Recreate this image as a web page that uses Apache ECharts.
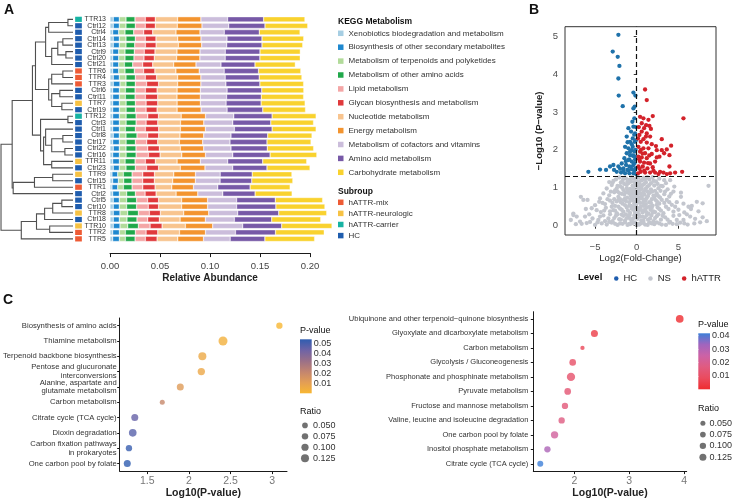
<!DOCTYPE html>
<html>
<head>
<meta charset="utf-8">
<script src="https://cdn.jsdelivr.net/npm/echarts@6/dist/echarts.min.js"></script>
<style>html,body{margin:0;padding:0;background:#fff}#main{width:735px;height:500px}</style>
</head>
<body>
<div id="main"></div>
<script>
'use strict';

// ---------- Panel A : samples, top to bottom ----------
var samples = ['TTR13','Ctrl12','Ctrl4','Ctrl14','Ctrl13','Ctrl9','Ctrl20','Ctrl21','TTR6','TTR4','TTR3','Ctrl6','Ctrl11','TTR7','Ctrl19','TTR12','Ctrl3','Ctrl1','Ctrl8','Ctrl17','Ctrl22','Ctrl16','TTR11','Ctrl23','TTR9','Ctrl15','TTR1','Ctrl2','Ctrl5','Ctrl10','TTR8','Ctrl18','TTR10','TTR2','TTR5'];
var subgroupOf = ['hATTR-carrier','HC','HC','HC','HC','HC','HC','HC','hATTR-mix','hATTR-mix','hATTR-mix','HC','HC','hATTR-neurologic','HC','hATTR-carrier','HC','HC','HC','HC','HC','HC','hATTR-neurologic','HC','hATTR-neurologic','HC','hATTR-mix','HC','HC','HC','hATTR-neurologic','HC','hATTR-neurologic','hATTR-mix','hATTR-mix'];
var subgroups = ['hATTR-mix', 'hATTR-neurologic', 'hATTR-carrier', 'HC'];
var subgroupColors = ['#EE5B35', '#F7C244', '#17B3A3', '#1F5DAE'];

// relative abundance, x 1e-3
var xenobiotics = [3.3,3.3,2.7,3.3,3.3,2.7,2.7,2.7,2.7,3.3,3.3,2.7,2.7,2.7,2.7,2.7,2.7,2.7,3.3,2.7,3.3,2.7,2.7,3.3,2.0,2.7,2.0,2.7,3.3,3.3,3.3,3.3,3.3,2.7,2.7];
var secondary = [6.0,6.0,6.0,6.0,6.0,6.0,6.0,6.0,6.0,6.0,6.7,6.7,6.7,6.7,6.7,6.7,6.7,6.7,6.0,6.7,6.0,6.7,6.7,6.0,5.7,5.7,5.7,6.7,6.0,6.0,6.7,6.0,6.7,6.7,6.7];
var terpenoids = [6.7,6.7,6.3,6.7,6.7,6.3,6.3,5.7,6.3,6.7,6.0,6.0,6.0,6.7,6.7,6.7,6.7,6.0,6.7,6.7,6.7,6.7,5.7,6.7,5.7,5.3,5.7,7.3,7.3,7.3,7.7,7.7,7.7,6.0,6.0];
var otherAmino = [9.0,9.3,8.7,9.3,8.7,9.3,9.0,8.3,9.3,9.3,9.3,9.7,9.7,9.3,9.3,10.0,10.0,10.0,11.0,9.3,10.0,10.0,10.0,9.3,8.7,8.3,8.7,8.7,10.0,10.0,10.7,10.0,10.7,10.0,9.7];
var lipid = [10.3,10.0,10.0,10.0,10.7,10.0,10.0,10.0,9.3,10.0,11.3,10.3,10.3,10.7,10.7,11.7,10.0,10.0,10.7,11.3,11.7,12.3,10.3,11.3,10.7,10.7,10.7,9.7,11.0,11.7,11.0,10.7,11.7,10.7,10.3];
var glycan = [10.0,10.0,9.0,10.7,10.7,10.7,10.3,10.0,11.3,11.3,12.0,11.7,12.3,11.7,11.0,10.7,11.7,13.3,11.0,11.0,11.7,11.7,10.0,12.0,11.7,11.7,12.3,11.0,11.0,10.3,11.0,11.7,12.0,11.7,11.7];
var nucleotide = [22.3,22.0,23.3,21.7,22.3,22.0,22.3,21.0,21.0,21.0,19.0,20.0,19.3,19.3,20.0,22.7,22.7,21.7,21.3,21.7,21.0,21.7,21.7,21.7,19.3,18.3,16.7,20.0,23.0,23.0,23.3,20.7,23.3,21.7,20.7];
var energy = [23.3,24.7,24.0,23.3,23.3,23.0,23.3,22.3,23.3,23.3,23.3,23.3,23.3,23.3,24.0,24.3,23.3,25.0,23.7,23.3,23.3,23.7,23.3,24.7,21.7,22.7,21.7,21.7,26.0,26.0,25.0,25.3,27.3,26.0,25.7];
var cofactors = [26.7,26.7,24.3,26.0,25.0,25.3,25.3,25.0,25.0,24.3,25.0,26.7,26.3,25.7,26.0,28.3,29.0,29.0,27.3,27.3,27.3,27.3,27.3,27.7,24.7,24.7,24.3,25.0,29.0,29.0,29.0,29.0,30.0,30.0,26.7];
var aminoAcid = [36.0,36.3,35.0,35.0,35.3,34.7,34.7,34.0,34.3,34.0,34.0,34.7,34.7,35.0,35.7,38.3,38.0,37.7,36.7,37.0,36.3,37.3,35.0,34.3,32.0,31.7,32.3,32.3,38.7,39.3,41.0,37.3,39.0,40.0,34.7];
var carbohydrate = [41.3,42.7,40.7,41.7,40.7,40.3,40.3,40.3,42.3,42.7,43.7,42.0,42.3,44.0,42.7,44.0,42.7,44.0,44.3,44.0,46.3,46.7,44.0,43.0,39.7,41.0,40.0,37.0,47.3,49.0,48.0,49.0,50.3,48.7,49.7];

var keggNames = ['Xenobiotics biodegradation and metabolism','Biosynthesis of other secondary metabolites','Metabolism of terpenoids and polyketides','Metabolism of other amino acids','Lipid metabolism','Glycan biosynthesis and metabolism','Nucleotide metabolism','Energy metabolism','Metabolism of cofactors and vitamins','Amino acid metabolism','Carbohydrate metabolism'];
var keggValues = [xenobiotics, secondary, terpenoids, otherAmino, lipid, glycan, nucleotide, energy, cofactors, aminoAcid, carbohydrate];
var keggColors = ['#A6CEE3','#1E88CF','#B2DB9A','#20A84A','#F4A6A6','#E0393C','#F8C48E','#F3942F','#CBBDDB','#7759A7','#F9D22E'];

// clustering, hclust style: negative = leaf (1-based), positive = earlier merge
var mergeLeft = [-1,1,-4,-6,3,5,2,-9,8,-12,-14,10,9,7,-16,-19,-21,16,-18,-23,19,15,14,-25,24,25,23,-29,28,29,-33,30,32,27];
var mergeRight = [-2,-3,-5,-7,4,-8,6,-10,-11,-13,-15,11,12,13,-17,-20,-22,17,18,-24,20,21,22,-26,-27,-28,26,-30,-31,-32,-34,31,-35,33];
var mergeHeight = [5,24,10,7,15,21,27,10,21,13,11,21,24,37,5,10,8,21,27,21,29,32,40,20,38,59,60,11,20,28,23,36,51,71];

// ---------- Panel B : volcano ----------
var pThreshold = 0.05;
var hcPoints = [[-2.2,5.03],[-2.88,4.59],[-2.28,4.45],[-2.08,4.21],[-2.2,3.88],[-0.4,3.51],[-2.16,3.43],[-0.16,3.43],[-1.68,3.15],[-0.24,3.14],[-0.4,3.09],[-0.28,2.83],[-0.52,2.74],[-0.4,2.61],[-1.0,2.57],[-0.68,2.48],[-0.2,2.43],[-1.2,2.35],[-0.48,2.30],[-0.8,2.21],[-0.24,2.21],[-1.4,2.08],[-1.0,2.04],[-0.6,1.99],[-0.28,1.95],[-1.2,1.91],[-0.8,1.86],[-0.4,1.84],[-1.48,1.78],[-1.0,1.73],[-0.6,1.69],[-0.2,1.75],[-1.8,1.64],[-1.28,1.60],[-0.88,1.56],[-0.4,1.60],[-2.2,1.56],[-1.6,1.51],[-1.12,1.47],[-0.6,1.49],[-0.16,1.51],[-2.8,1.60],[-3.2,1.56],[-3.68,1.47],[-4.4,1.48],[-5.8,1.42],[-2.4,1.42],[-1.88,1.40],[-1.4,1.38],[-0.88,1.38],[-0.4,1.38],[-0.08,1.36],[-0.8,1.95],[-0.48,2.08],[-0.12,1.82],[-2.72,1.47],
[-0.1,2.6],[-0.3,2.4],[-0.1,2.25],[-0.6,2.15],[-0.15,2.0],[-0.5,1.85],[-0.25,1.65],[-0.7,1.55],[-1.0,1.45],[-0.3,1.45],[-1.6,1.45],[-2.0,1.5],[-1.3,1.7],[-0.9,1.75],[-1.1,2.2]];
var hattrPoints = [[1.0,3.59],[1.2,3.31],[5.6,2.83],[0.4,2.87],[0.8,2.83],[1.92,2.89],[1.4,2.79],[1.12,2.65],[1.52,2.63],[0.88,2.57],[0.6,2.48],[1.2,2.43],[0.32,2.39],[1.6,2.35],[3.0,2.28],[0.8,2.28],[0.48,2.21],[1.2,2.19],[1.8,2.15],[4.12,2.11],[0.2,2.08],[0.8,2.04],[1.4,2.04],[2.4,1.99],[3.0,1.99],[3.6,2.01],[0.4,1.95],[1.0,1.91],[1.8,1.89],[3.28,1.91],[3.92,1.86],[0.2,1.82],[0.6,1.80],[1.2,1.78],[2.4,1.80],[2.72,1.82],[0.4,1.69],[0.88,1.66],[1.6,1.64],[2.2,1.69],[0.2,1.56],[0.72,1.56],[1.28,1.51],[1.92,1.54],[3.92,1.56],[0.48,1.42],[1.0,1.40],[1.6,1.40],[2.2,1.40],[2.8,1.42],[3.2,1.40],[4.0,1.38],[4.6,1.40],[5.44,1.42],[0.16,1.38],[3.6,1.36],[2.6,1.36],
[0.25,2.6],[0.15,2.3],[0.5,2.0],[0.3,1.75],[0.7,1.9],[1.5,1.85],[0.9,1.45],[0.35,1.5],[1.35,1.65],[2.0,1.45],[1.1,2.35],[0.6,2.7],[2.3,2.1],[1.7,2.55]];
var nsPoints = [[-2.5,1.22],[-2.1,1.27],[-1.7,1.18],[-1.3,1.25],[-0.9,1.21],[-0.6,1.28],[-0.3,1.15],[-0.1,1.24],[0.2,1.27],[0.5,1.19],[0.8,1.26],[1.1,1.14],[1.5,1.22],[1.9,1.28],[2.3,1.17],[2.7,1.24],[-1.5,1.1],[0.9,1.1],[-2.9,1.13],[3.3,1.2],[4.0,1.2],
[-3.0,1.07],[-2.4,0.98],[-2.0,1.04],[-1.6,0.94],[-1.2,1.08],[-0.8,0.97],[-0.5,1.05],[-0.2,0.92],[0.1,1.02],[0.4,0.95],[0.7,1.07],[1.0,0.93],[1.3,1.03],[1.7,0.96],[2.1,1.06],[2.6,0.99],[3.1,1.04],[3.7,0.96],[4.5,1.03],[8.6,1.05],[-3.6,0.98],
[-4.0,0.85],[-3.3,0.8],[-2.7,0.88],[-2.2,0.76],[-1.8,0.84],[-1.4,0.72],[-1.0,0.87],[-0.7,0.78],[-0.3,0.83],[0.0,0.71],[0.3,0.86],[0.6,0.77],[0.9,0.82],[1.2,0.73],[1.6,0.88],[2.0,0.79],[2.4,0.85],[2.8,0.74],[3.3,0.83],[3.9,0.77],[5.3,0.87],[5.3,0.76],[-4.4,0.72],[-6.7,0.76],[4.4,0.9],
[-6.4,0.68],[-5.9,0.68],[-5.0,0.54],[-4.5,0.63],[-3.8,0.57],[-3.2,0.66],[-2.6,0.52],[-2.2,0.68],[-1.7,0.58],[-1.3,0.65],[-0.9,0.53],[-0.5,0.67],[-0.2,0.56],[0.2,0.64],[0.5,0.51],[0.8,0.69],[1.1,0.57],[1.5,0.62],[1.9,0.53],[2.3,0.67],[2.7,0.58],[3.0,0.68],[3.6,0.68],[4.2,0.55],[4.8,0.62],[5.6,0.58],[6.2,0.5],[6.6,0.52],[7.2,0.63],[7.9,0.59],
[-7.6,0.32],[-6.1,0.44],[-5.4,0.46],[-4.8,0.41],[-4.3,0.36],[-3.7,0.47],[-3.2,0.38],[-2.8,0.41],[-2.4,0.33],[-2.0,0.45],[-1.6,0.37],[-1.2,0.48],[-0.8,0.34],[-0.4,0.42],[0.0,0.31],[0.3,0.46],[0.7,0.35],[1.0,0.43],[1.4,0.32],[1.8,0.47],[2.2,0.36],[2.5,0.48],[2.9,0.4],[3.2,0.33],[3.8,0.44],[4.4,0.37],[5.0,0.42],[5.7,0.35],[6.5,0.44],[7.4,0.38],
[-7.9,0.15],[-7.6,0.28],[-7.2,0.24],[-6.8,0.11],[-6.2,0.24],[-5.3,0.19],[-4.6,0.15],[-4.0,0.27],[-3.4,0.19],[-2.9,0.12],[-2.5,0.26],[-2.1,0.17],[-1.8,0.29],[-1.4,0.14],[-1.0,0.23],[-0.6,0.11],[-0.3,0.27],[0.1,0.18],[0.4,0.24],[0.8,0.13],[1.2,0.28],[1.6,0.19],[2.0,0.12],[2.4,0.25],[2.9,0.16],[3.4,0.22],[4.0,0.1],[4.8,0.15],[5.6,0.15],[6.4,0.24],[7.0,0.18],[8.4,0.12],
[-7.3,0.04],[-6.0,0.07],[-5.0,0.02],[-4.2,0.06],[-3.6,0.03],[-3.0,0.08],[-2.3,0.02],[-1.7,0.05],[-1.1,0.02],[-0.5,0.07],[0.0,0.01],[0.5,0.06],[1.0,0.03],[1.5,0.08],[2.1,0.04],[2.7,0.06],[3.5,0.02],[4.3,0.05],[5.2,0.08],[6.1,0.03],[6.9,0.06],
[-1.1,1.17],[-0.4,1.02],[0.3,1.12],[0.6,0.98],[1.3,0.9],[-0.9,0.62],[-0.1,0.75],[0.4,0.6],[1.2,0.48],[-0.6,0.45],[-1.9,0.62],[0.9,0.4],[-0.2,0.34],[0.2,0.05],[-0.8,0.18],[1.8,0.7],[-1.5,0.82],[0.1,0.88],[-0.6,0.93],[1.5,1.07],[-2.3,0.9],[2.2,0.92],[-0.3,0.58],[0.7,0.24],[-1.3,0.3],[1.9,0.34],[-2.7,0.7],[2.6,0.78],[0.0,0.47],[-0.9,0.05],
[-2.8,1.18],[-2.3,1.05],[-1.9,1.14],[-1.6,1.24],[-1.2,0.99],[-1.0,1.12],[-0.7,1.16],[-0.45,1.24],[-0.15,1.08],[0.05,1.16],[0.35,1.04],[0.65,1.2],[1.0,1.22],[1.25,1.28],[1.7,1.12],[2.0,1.18],[2.5,1.1],[2.9,1.05],[3.5,1.12],[-3.3,1.15],
[-2.6,0.93],[-2.1,0.86],[-1.75,1.0],[-1.35,0.88],[-1.1,0.92],[-0.85,0.84],[-0.55,0.86],[-0.35,0.96],[-0.05,0.82],[0.25,0.94],[0.5,0.85],[0.85,0.9],[1.1,0.98],[1.45,0.85],[1.85,0.9],[2.3,0.8],[2.85,0.92],[3.4,0.9],[-3.1,0.9],[4.1,0.84],
[-2.4,0.64],[-2.0,0.7],[-1.55,0.68],[-1.15,0.74],[-0.75,0.7],[-0.45,0.74],[-0.1,0.65],[0.15,0.77],[0.45,0.72],[0.75,0.6],[1.05,0.66],[1.35,0.78],[1.7,0.6],[2.1,0.72],[2.5,0.62],[3.3,0.6],[-3.5,0.7],[-2.9,0.6],[3.9,0.62],[-4.1,0.6],
[-2.6,0.4],[-2.2,0.5],[-1.8,0.42],[-1.4,0.54],[-1.05,0.4],[-0.7,0.52],[-0.35,0.5],[-0.05,0.55],[0.15,0.38],[0.5,0.42],[0.85,0.52],[1.15,0.36],[1.5,0.5],[1.65,0.42],[2.0,0.38],[2.4,0.55],[2.7,0.44],[3.5,0.5],[-3.0,0.5],[-3.9,0.4],[4.6,0.5],
[-2.7,0.2],[-2.3,0.3],[-1.9,0.16],[-1.6,0.26],[-1.2,0.2],[-0.85,0.28],[-0.45,0.18],[-0.15,0.22],[0.25,0.3],[0.55,0.14],[0.95,0.22],[1.35,0.16],[1.75,0.27],[2.2,0.2],[2.6,0.3],[3.1,0.26],[3.7,0.16],[-3.2,0.3],[-3.8,0.12],[4.4,0.26],[5.1,0.28],[-4.4,0.24],[-5.7,0.3],[6.0,0.3],
[-2.0,0.06],[-1.4,0.09],[-0.8,0.04],[-0.2,0.09],[0.3,0.03],[0.8,0.08],[1.3,0.02],[1.8,0.06],[2.4,0.09],[3.0,0.03],[-2.6,0.05],[-3.3,0.1],[3.9,0.08],[-4.7,0.09],[4.8,0.04],[5.7,0.06],[-5.6,0.1],[7.6,0.09],[-6.6,0.05],[7.9,0.22]];

// ---------- Panel C : enrichment ----------
var pathwaysL = ['Biosynthesis of amino acids','Thiamine metabolism','Terpenoid backbone biosynthesis','Pentose and glucuronate\ninterconversions','Alanine, aspartate and\nglutamate metabolism','Carbon metabolism','Citrate cycle (TCA cycle)','Dioxin degradation','Carbon fixation pathways\nin prokaryotes','One carbon pool by folate'];
var pValueL = [0.00082, 0.0039, 0.0069, 0.0071, 0.0127, 0.0209, 0.0447, 0.0473, 0.0525, 0.0550];
var ratioL = [0.071, 0.157, 0.125, 0.104, 0.093, 0.029, 0.093, 0.114, 0.071, 0.093];

var pathwaysR = ['Ubiquinone and other terpenoid\u2212quinone biosynthesis','Glyoxylate and dicarboxylate metabolism','Carbon metabolism','Glycolysis / Gluconeogenesis','Phosphonate and phosphinate metabolism','Pyruvate metabolism','Fructose and mannose metabolism','Valine, leucine and isoleucine degradation','One carbon pool by folate','Inositol phosphate metabolism','Citrate cycle (TCA cycle)'];
var pValueR = [0.00012, 0.0043, 0.0071, 0.0107, 0.0115, 0.0132, 0.0148, 0.0170, 0.0229, 0.0309, 0.0417];
var ratioR = [0.150, 0.125, 0.025, 0.1125, 0.175, 0.1125, 0.100, 0.100, 0.1375, 0.100, 0.0875];

var ratioBreaks = [0.050, 0.075, 0.100, 0.125];
var pBreaksL = [0.01, 0.02, 0.03, 0.04, 0.05];
var pBreaksR = [0.01, 0.02, 0.03, 0.04];
var colorsL = ['#F8B732', '#E39E55', '#C3856F', '#9A7088', '#6E63A6', '#2F5DB0'];
var colorsR = ['#EF2C2F', '#EA4B5E', '#E05B80', '#CC62A6', '#A065BE', '#3D7FD8'];

// ------------------------------------------------
var FONT = '"Liberation Sans", Arial, Helvetica, sans-serif';
var chartDom = document.getElementById('main');
var myChart = echarts.init(chartDom, null, {renderer: 'canvas'});

function nlog(p) { return -Math.log10(p); }
function sizeL(r) { return 5.67 + 31.1 * (r - 0.05); }
function sizeR(r) { return 5.0 + 26.7 * (r - 0.05); }
function expand(arr) {
  var lo = Math.min.apply(null, arr), hi = Math.max.apply(null, arr), pad = (hi - lo) * 0.05;
  return [lo - pad, hi + pad];
}
function gradient(colors) {
  var stops = colors.slice().reverse().map(function (c, i) {
    return {offset: i / (colors.length - 1), color: c};
  });
  return {type: 'linear', x: 0, y: 0, x2: 0, y2: 1, colorStops: stops};
}

// dendrogram node positions
var nodeY = [];
var dendroData = mergeHeight.map(function (h, i) {
  function pos(ref) { return ref < 0 ? [-ref - 1, 0] : [nodeY[ref - 1], mergeHeight[ref - 1]]; }
  var a = pos(mergeLeft[i]), b = pos(mergeRight[i]);
  nodeY[i] = (a[0] + b[0]) / 2;
  return [h, a[0], b[0], a[1], b[1]];
});

var xL = pValueL.map(nlog), xR = pValueR.map(nlog);
var rangeL = expand(xL), rangeR = expand(xR);

var rowTop = 16.1, rowH = 226;
var axisCol = '#1a1a1a';

var grids = [
  {left: 110, top: rowTop, width: 200, height: rowH},             // 0 bars
  {left: 0, top: rowTop, width: 73, height: rowH},                // 1 dendrogram
  {left: 75, top: rowTop, width: 7, height: rowH},                // 2 subgroup
  {left: 565, top: 26.7, width: 151, height: 208.3, show: true, borderColor: '#333', borderWidth: 1, backgroundColor: 'transparent'}, // 3 volcano
  {left: 116, top: 318, width: 171, height: 154.7},               // 4 enrichment left
  {left: 533.3, top: 311.7, width: 153.4, height: 161},           // 5 enrichment right
  {left: 300, top: 339.3, width: 11.7, height: 54, show: true, borderWidth: 0, backgroundColor: gradient(colorsL)},   // 6 colorbar L
  {left: 698.3, top: 333.3, width: 11.7, height: 56, show: true, borderWidth: 0, backgroundColor: gradient(colorsR)}, // 7 colorbar R
  {left: 300, top: 420, width: 10, height: 43.6},                 // 8 ratio L
  {left: 699.3, top: 417.6, width: 10, height: 45.2}              // 9 ratio R
];

var enrichX = function (gi, range, ticks) {
  return {
    gridIndex: gi, type: 'value', min: range[0], max: range[1],
    axisLine: {show: true, lineStyle: {color: axisCol, width: 1}},
    axisTick: {show: true, length: 3, customValues: ticks, lineStyle: {color: axisCol}},
    axisLabel: {customValues: ticks, fontSize: 10.5, color: '#777', margin: 5},
    splitLine: {show: false},
    name: 'Log10(P-value)', nameLocation: 'middle', nameGap: 14,
    nameTextStyle: {fontSize: 10.5, fontWeight: 'bold', color: '#222'}
  };
};
var enrichY = function (gi, cats, fs, margin) {
  return {
    gridIndex: gi, type: 'category', data: cats, inverse: true,
    axisLine: {show: true, lineStyle: {color: axisCol, width: 1}},
    axisTick: {show: true, length: 2.5, alignWithLabel: true, lineStyle: {color: axisCol}},
    axisLabel: {interval: 0, fontSize: fs, color: '#333', margin: margin, lineHeight: 8.5}
  };
};
var colorbarY = function (gi, vmin, vmax, breaks) {
  return {
    gridIndex: gi, type: 'value', position: 'right', min: vmin, max: vmax,
    axisLine: {show: false}, splitLine: {show: false},
    axisTick: {show: true, inside: true, length: 2.5, customValues: breaks, lineStyle: {color: '#fff'}},
    axisLabel: {customValues: breaks, fontSize: 9, color: '#333', margin: 2, formatter: function (v) { return v.toFixed(2); }}
  };
};
var ratioY = function (gi) {
  return {
    gridIndex: gi, type: 'category', position: 'right', inverse: true,
    data: ratioBreaks.map(function (r) { return r.toFixed(3); }),
    axisLine: {show: false}, axisTick: {show: false},
    axisLabel: {interval: 0, fontSize: 9, color: '#333', margin: 3}
  };
};
var hidX = function (gi) { return {gridIndex: gi, type: 'value', min: 0, max: 1, show: false}; };

var xAxes = [
  {gridIndex: 0, type: 'value', min: 0, max: 0.2, interval: 0.05, offset: 11,
    axisLine: {show: true, lineStyle: {color: axisCol, width: 1}},
    axisTick: {show: true, length: 4, lineStyle: {color: axisCol}},
    axisLabel: {fontSize: 9.5, color: '#444', margin: 8, formatter: function (v) { return v.toFixed(2); }},
    splitLine: {show: false},
    name: 'Relative Abundance', nameLocation: 'middle', nameGap: 20,
    nameTextStyle: {fontSize: 10, fontWeight: 'bold', color: '#222'}},
  {gridIndex: 1, type: 'value', min: 0, max: 72, inverse: true, show: false},
  hidX(2),
  {gridIndex: 3, type: 'value', min: -8.6, max: 9.5,
    axisLine: {show: false}, splitLine: {show: false},
    axisTick: {show: true, length: 3, customValues: [-5, 0, 5], lineStyle: {color: '#333'}},
    axisLabel: {customValues: [-5, 0, 5], fontSize: 9.5, color: '#4d4d4d', margin: 7,
      formatter: function (v) { return v < 0 ? '\u2212' + Math.abs(v) : String(v); }},
    name: 'Log2(Fold-Change)', nameLocation: 'middle', nameGap: 18,
    nameTextStyle: {fontSize: 9.5, color: '#222'}},
  enrichX(4, rangeL, [1.5, 2, 2.5, 3]),
  enrichX(5, rangeR, [2, 3, 4]),
  hidX(6), hidX(7), hidX(8), hidX(9)
];

var yAxes = [
  {gridIndex: 0, type: 'category', data: samples, inverse: true,
    axisLine: {show: false}, axisTick: {show: false},
    axisLabel: {interval: 0, fontSize: 7, color: '#333', margin: 4}},
  {gridIndex: 1, type: 'value', min: -0.5, max: samples.length - 0.5, inverse: true, show: false},
  {gridIndex: 2, type: 'category', data: samples, inverse: true, show: false},
  {gridIndex: 3, type: 'value', min: -0.245, max: 5.245,
    axisLine: {show: false}, splitLine: {show: false},
    axisTick: {show: true, length: 3, customValues: [0, 1, 2, 3, 4, 5], lineStyle: {color: '#333'}},
    axisLabel: {customValues: [0, 1, 2, 3, 4, 5], fontSize: 9.5, color: '#4d4d4d', margin: 7},
    name: '\u2212Log10 (P\u2212value)', nameLocation: 'middle', nameGap: 21,
    nameTextStyle: {fontSize: 9.5, fontWeight: 'bold', color: '#222'}},
  enrichY(4, pathwaysL, 7.7, 3),
  enrichY(5, pathwaysR, 7.5, 5),
  colorbarY(6, 0.0008, 0.054, pBreaksL),
  colorbarY(7, 0.0001, 0.0417, pBreaksR),
  ratioY(8), ratioY(9)
];

var series = [];

keggNames.forEach(function (name, i) {
  series.push({
    name: name, type: 'bar', stack: 'kegg', xAxisIndex: 0, yAxisIndex: 0,
    barWidth: 5.2, clip: false,
    itemStyle: {color: keggColors[i], borderColor: '#fff', borderWidth: 0.4},
    data: keggValues[i].map(function (v) { return v / 1000; })
  });
});

series.push({
  type: 'custom', xAxisIndex: 1, yAxisIndex: 1, silent: true,
  encode: {x: 0, y: 1},
  data: dendroData,
  renderItem: function (params, api) {
    var h = api.value(0), ya = api.value(1), yb = api.value(2);
    var pts = [api.coord([api.value(3), ya]), api.coord([h, ya]), api.coord([h, yb]), api.coord([api.value(4), yb])];
    return {type: 'polyline', shape: {points: pts}, style: {stroke: '#505050', lineWidth: 1.1, fill: null}};
  }
});

subgroups.forEach(function (g, i) {
  series.push({
    name: g, type: 'scatter', xAxisIndex: 2, yAxisIndex: 2,
    symbol: 'rect', symbolSize: [6.7, 5.2],
    itemStyle: {color: subgroupColors[i], opacity: 1},
    data: samples.filter(function (s, k) { return subgroupOf[k] === g; })
      .map(function (s) { return [0.5, s]; })
  });
});

var volcano = [['HC', hcPoints, '#1F72AA', 2], ['NS', nsPoints, '#C3C6CE', 1], ['hATTR', hattrPoints, '#D3222A', 2]];
volcano.forEach(function (v) {
  series.push({
    name: v[0], type: 'scatter', xAxisIndex: 3, yAxisIndex: 3, z: v[3],
    symbolSize: 4.3, itemStyle: {color: v[2], opacity: 1},
    data: v[1]
  });
});
series[series.length - 1].markLine = {
  silent: true, symbol: ['none', 'none'], label: {show: false},
  lineStyle: {color: '#111', type: [5, 3], width: 1.2},
  data: [{xAxis: 0}, {yAxis: nlog(pThreshold)}]
};

var idxL = series.length;
series.push({
  type: 'scatter', xAxisIndex: 4, yAxisIndex: 4,
  symbolSize: function (v) { return sizeL(v[3]); },
  data: pathwaysL.map(function (c, i) { return [xL[i], c, pValueL[i], ratioL[i]]; })
});
var idxR = series.length;
series.push({
  type: 'scatter', xAxisIndex: 5, yAxisIndex: 5,
  symbolSize: function (v) { return sizeR(v[3]); },
  data: pathwaysR.map(function (c, i) { return [xR[i], c, pValueR[i], ratioR[i]]; })
});
series.push({
  type: 'scatter', xAxisIndex: 8, yAxisIndex: 8, itemStyle: {color: '#4d4d4d'},
  symbolSize: function (v) { return sizeL(v[2]); },
  data: ratioBreaks.map(function (r) { return [0.5, r.toFixed(3), r]; })
});
series.push({
  type: 'scatter', xAxisIndex: 9, yAxisIndex: 9, itemStyle: {color: '#4d4d4d'},
  symbolSize: function (v) { return sizeR(v[2]); },
  data: ratioBreaks.map(function (r) { return [0.5, r.toFixed(3), r]; })
});

function label(txt, x, y, size, bold) {
  return {type: 'text', left: x, top: y - size / 2 - 1, silent: true,
    style: {text: txt, fontSize: size, fontWeight: bold ? 'bold' : 'normal', fill: '#111', fontFamily: FONT}};
}

var option = {
  animation: false,
  backgroundColor: '#fff',
  textStyle: {fontFamily: FONT},
  grid: grids,
  xAxis: xAxes,
  yAxis: yAxes,
  legend: [
    {data: keggNames, orient: 'vertical', left: 338, top: 29.3, padding: 0,
      itemWidth: 5.5, itemHeight: 5.5, itemGap: 5.9, icon: 'rect', selectedMode: false,
      itemStyle: {borderWidth: 0},
      textStyle: {fontSize: 8, color: '#333', lineHeight: 8}},
    {data: subgroups, orient: 'vertical', left: 338, top: 198.3, padding: 0,
      itemWidth: 5.5, itemHeight: 5.5, itemGap: 3.1, icon: 'rect', selectedMode: false,
      textStyle: {fontSize: 8, color: '#333', lineHeight: 8}},
    {data: ['HC', 'NS', 'hATTR'], orient: 'horizontal', left: 614, top: 273.5, padding: 0,
      itemWidth: 4.5, itemHeight: 4.5, itemGap: 11, icon: 'circle', selectedMode: false,
      textStyle: {fontSize: 9.5, color: '#222', lineHeight: 9}}
  ],
  visualMap: [
    {type: 'continuous', show: false, seriesIndex: idxL, dimension: 2,
      min: 0.0008, max: 0.054, inRange: {color: colorsL}},
    {type: 'continuous', show: false, seriesIndex: idxR, dimension: 2,
      min: 0.0001, max: 0.0417, inRange: {color: colorsR}}
  ],
  graphic: [
    label('A', 4, 11, 14, true),
    label('B', 529, 11, 14, true),
    label('C', 3, 301, 14, true),
    label('KEGG Metabolism', 338, 22.7, 8.5, true),
    label('Subroup', 338, 192.7, 8.5, true),
    label('Level', 578, 278, 9.5, true),
    label('P-value', 300, 331.7, 9, false),
    label('P-value', 698, 326, 9, false),
    label('Ratio', 300, 412.7, 9, false),
    label('Ratio', 698, 409.3, 9, false)
  ],
  series: series
};

myChart.setOption(option);
</script>
</body>
</html>
